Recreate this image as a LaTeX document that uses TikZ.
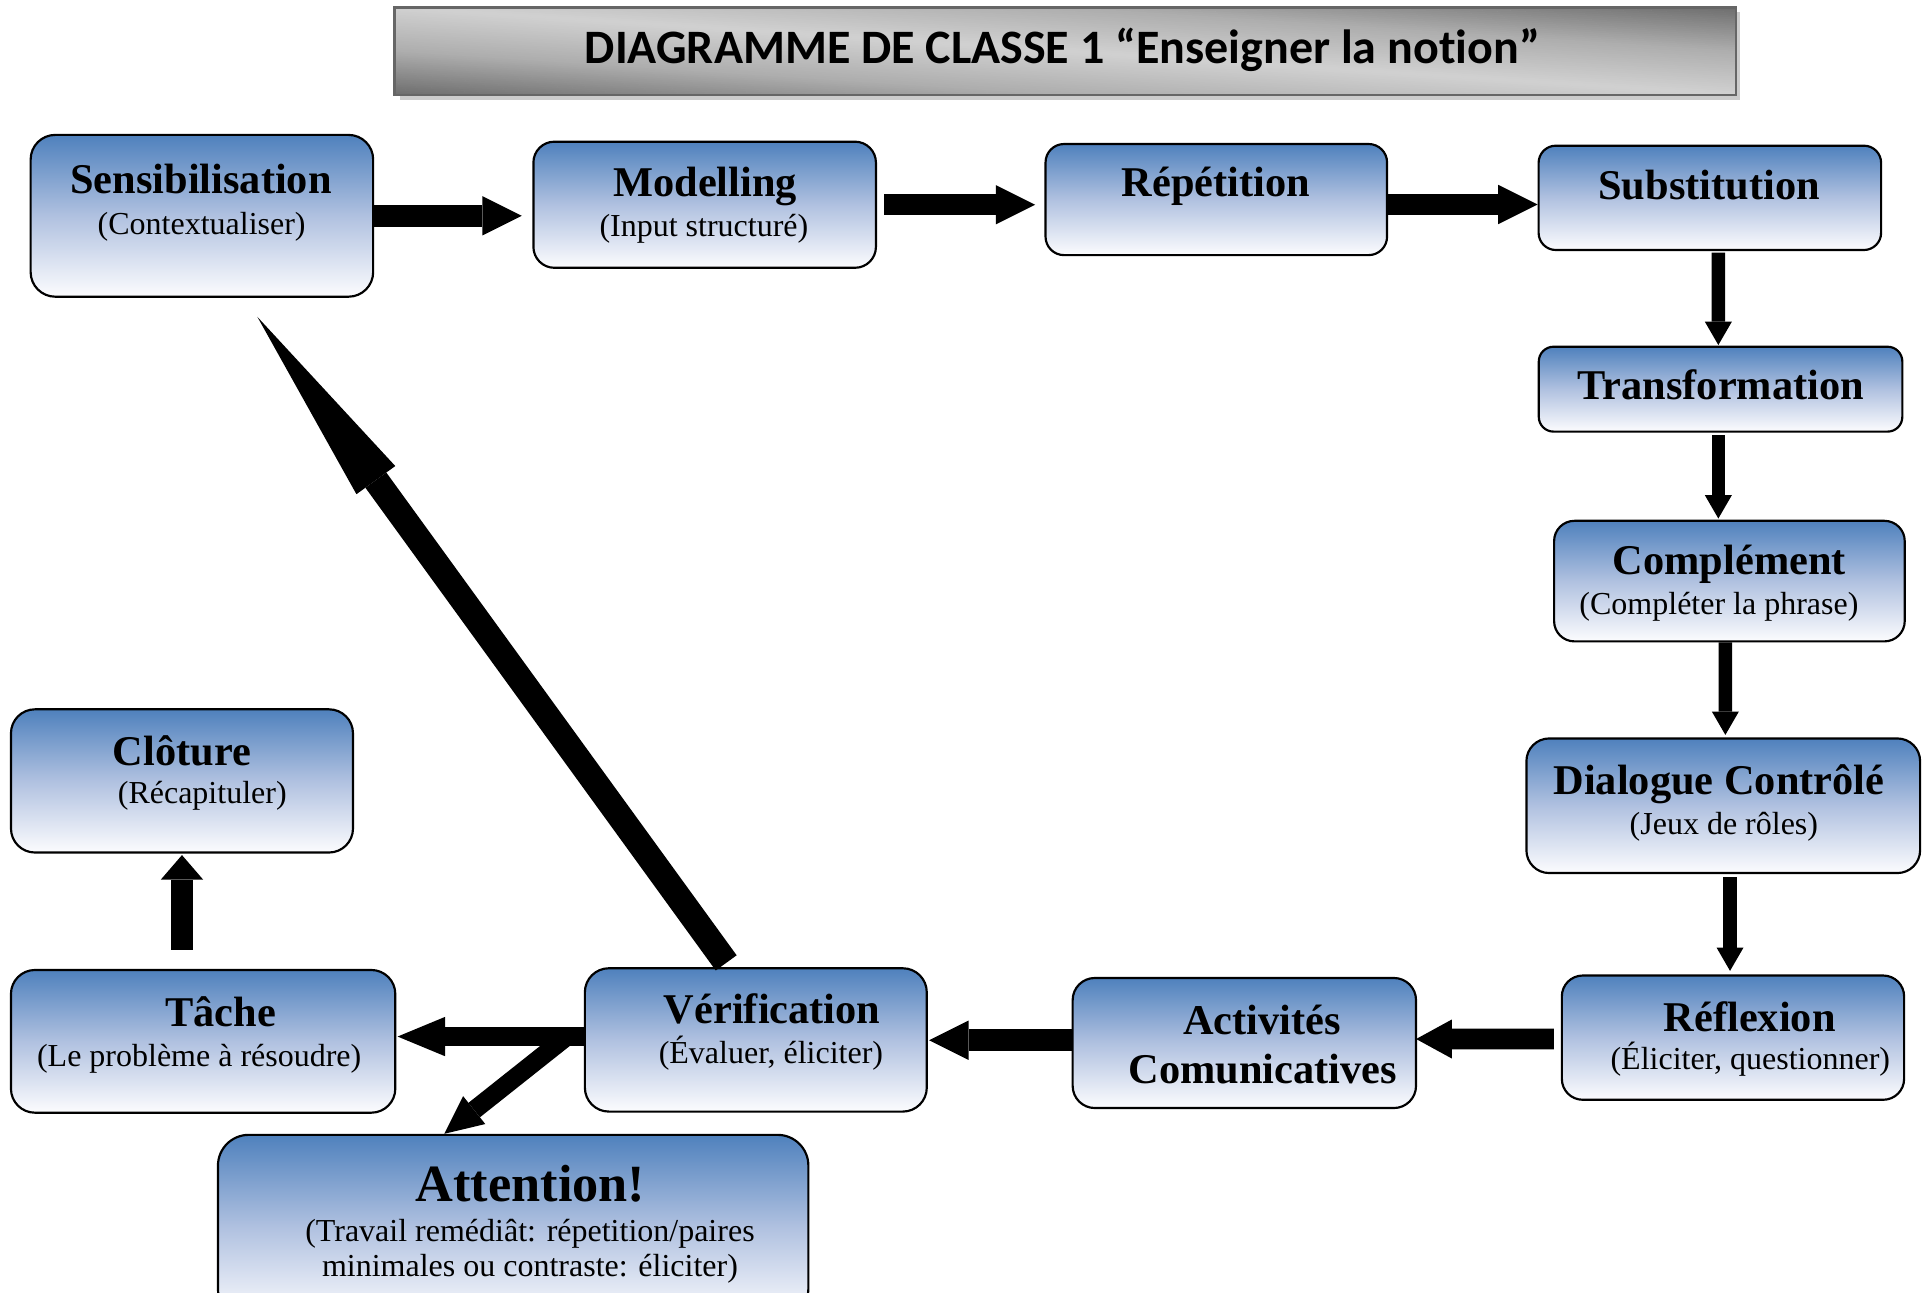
\documentclass[tikz,border=0pt]{standalone}
\usepackage{fontspec}
\setmainfont{Liberation Serif}
\newfontfamily\hdrfont[Ligatures=NoCommon]{Carlito}
\usetikzlibrary{arrows.meta,calc}
\definecolor{boxtop}{RGB}{79,129,189}
\definecolor{boxmid}{RGB}{176,193,224}
\definecolor{boxbot}{RGB}{252,252,254}
\tikzset{
  box/.style={draw=black, line width=0.5pt, top color=boxtop, bottom color=boxbot, middle color=boxmid, inner sep=0pt},
  hdrbox/.style={draw=black!60, line width=0.6pt, inner sep=0pt},
  ttl/.style={anchor=base, inner sep=0pt, font=\fontsize{9.8}{11}\selectfont\bfseries},
  bigttl/.style={anchor=base, inner sep=0pt, font=\fontsize{12.1}{13}\selectfont\bfseries},
  sub/.style={anchor=base, inner sep=0pt, font=\fontsize{7.4}{9}\selectfont},
  hdrtxt/.style={anchor=base, inner sep=0pt, font=\hdrfont\fontsize{11.1}{13}\selectfont\bfseries},
  harrow/.style={line width=1.75mm, -{Triangle[length=3.2mm,width=3.2mm,line width=0pt]}},
  varrow/.style={line width=1.1mm, -{Triangle[length=1.9mm,width=2.2mm,line width=0pt]}},
}
\begin{document}
\begin{tikzpicture}[x=0.01cm, y=-0.01cm]
\useasboundingbox (0,0) rectangle (1568,1051);

% header shadow and diagonal grey gradient
\fill[gray!40] (325,10) rectangle (1415.4,81.3);
\begin{scope}
  \clip (321,6) rectangle (1411.4,77.3);
  \foreach \d in {-73.5,-72,...,72} {
    \pgfmathsetmacro\ad{abs(\d+0.75)}
    \pgfmathsetmacro\g{\ad<35.65 ? 0.82-0.14*\ad/35.65 : max(0.43,0.68-0.25*(\ad-35.65)/35.65)}
    \pgfmathsetmacro\pc{100*(1-\g)}
    \pgfmathsetmacro\ya{6+\d}
    \pgfmathsetmacro\yb{77.3+\d}
    \pgfmathsetmacro\yc{77.3+\d+1.9}
    \pgfmathsetmacro\yd{6+\d+1.9}
    \fill[black!\pc] (321,\ya) -- (1411.4,\yb) -- (1411.4,\yc) -- (321,\yd) -- cycle;
  }
\end{scope}
\node[hdrbox, minimum width=10.904cm, minimum height=0.713cm] (hdr) at (866.2,41.65) {};
\node[hdrtxt] (hdrt) at (864,52) {DIAGRAMME DE CLASSE 1 “Enseigner la notion”};

% boxes
\node[box, rounded corners=0.2cm, minimum width=2.784cm, minimum height=1.315cm] (sens) at (164.2,175.5) {};
\node[ttl] (senst) at (163.5,157.2) {Sensibilisation};
\node[sub] (senss) at (164,191.1) {(Contextualiser)};

\node[box, rounded corners=0.17cm, minimum width=2.784cm, minimum height=1.025cm] (mod) at (573.1,166.5) {};
\node[ttl] (modt) at (573.5,160) {Modelling};
\node[sub] (mods) at (572.5,192.5) {(Input structuré)};

\node[box, rounded corners=0.15cm, minimum width=2.776cm, minimum height=0.903cm] (rep) at (989.2,162.3) {};
\node[ttl] (rept) at (989,160) {Répétition};

\node[box, rounded corners=0.14cm, minimum width=2.784cm, minimum height=0.848cm] (subst) at (1390.6,160.9) {};
\node[ttl] (substt) at (1390,162) {Substitution};

\node[box, rounded corners=0.12cm, minimum width=2.955cm, minimum height=0.69cm] (transf) at (1399.3,316.5) {};
\node[ttl] (transft) at (1399.5,325.2) {Transformation};

\node[box, rounded corners=0.165cm, minimum width=2.85cm, minimum height=0.98cm] (compl) at (1406.5,472.6) {};
\node[ttl] (complt) at (1406.5,467.6) {Complément};
\node[sub] (compls) at (1398,499.9) {(Compléter la phrase)};

\node[box, rounded corners=0.185cm, minimum width=3.2cm, minimum height=1.094cm] (dial) at (1401.5,655.3) {};
\node[ttl] (dialt) at (1398,646.2) {Dialogue Contrôlé};
\node[sub] (dials) at (1402,678.5) {(Jeux de rôles)};

\node[box, rounded corners=0.17cm, minimum width=2.782cm, minimum height=1.01cm] (refl) at (1409.4,843.9) {};
\node[ttl] (reflt) at (1423,838.5) {Réflexion};
\node[sub] (refls) at (1423.5,869.9) {(Éliciter, questionner)};

\node[box, rounded corners=0.18cm, minimum width=2.791cm, minimum height=1.057cm] (act) at (1012,848.25) {};
\node[ttl] (actt) at (1026.5,841.2) {Activités};
\node[ttl] (acts) at (1027,880.8) {Comunicatives};

\node[box, rounded corners=0.195cm, minimum width=2.779cm, minimum height=1.165cm] (ver) at (614.7,845.75) {};
\node[ttl] (vert) at (628,832.3) {Vérification};
\node[sub] (vers) at (627,864.8) {(Évaluer, éliciter)};

\node[box, rounded corners=0.195cm, minimum width=3.124cm, minimum height=1.16cm] (tache) at (165.2,846.9) {};
\node[ttl] (tachet) at (179.5,835) {Tâche};
\node[sub] (taches) at (162,867.5) {(Le problème à résoudre)};

\node[box, rounded corners=0.195cm, minimum width=2.78cm, minimum height=1.164cm] (clot) at (148,635.1) {};
\node[ttl] (clott) at (148,622.8) {Clôture};
\node[sub] (clots) at (164.5,653.4) {(Récapituler)};

\node[box, rounded corners=0.25cm, minimum width=4.799cm, minimum height=1.5cm] (att) at (417.35,998) {};
\node[bigttl] (attt) at (431.5,977.3) {Attention!};
\node[sub] (atts1) at (431,1009.8) {(Travail remédiât: répetition/paires};
\node[sub] (atts2) at (431,1038.3) {minimales ou contraste: éliciter)};

% arrows
\draw[harrow] (sens.east) -- ($(sens.east -| mod.west)+(-8.6,0)$);
\draw[harrow] ($(mod.east)+(6,0)$) -- ($(mod.east -| rep.west)+(-7.6,0)$);
\draw[harrow] ($(rep.east)+(0,4)$) -- ($(rep.east -| subst.west)+(0,4)$);
\draw[varrow] ($(subst.south)+(6.9,1.3)$) -- ($(transf.north)+(-1.8,-0.5)$);
\draw[varrow] ($(transf.south)+(-1.8,2)$) -- ($(compl.north)+(-9,-1)$);
\draw[varrow] ($(compl.south)+(-3.3,0)$) -- ($(dial.north)+(1.7,-2)$);
\draw[varrow] ($(dial.south)+(5.5,2.4)$) -- ($(refl.north)+(-2.4,-2.9)$);
\draw[line width=1.7mm, -{Triangle[length=2.9mm,width=3.17mm,line width=0pt]}] ($(refl.west)+(-5.6,1.1)$) -- ($(act.east)+(-0.8,-3.25)$);
\draw[harrow] ($(act.west)+(0,-2.25)$) -- ($(ver.east)+(1.1,0.25)$);
\draw[line width=1.6mm, -{Triangle[length=3.86mm,width=3.2mm,line width=0pt]}] ($(ver.west)+(0,-2.75)$) -- ($(tache.east)+(1,-3.9)$);
\draw[line width=1.5mm, -{Triangle[length=3.1mm,width=2.9mm,line width=0pt]}] ($(ver.west)+(-13.8,-2.75)$) -- ($(att.north)+(-56,0)$);
\draw[line width=1.8mm, -{Triangle[length=2.0mm,width=3.45mm,line width=0pt]}] ($(tache.north)+(-17.2,-15.5)$) -- ($(clot.south)+(0,1.2)$);
\draw[line width=2.1mm, -{Triangle[length=16.4mm,width=3.9mm,line width=0pt]}] ($(ver.north)+(-24.1,-3.5)$) -- ($(sens.south)+(45.1,15.5)$);
\end{tikzpicture}
\end{document}
